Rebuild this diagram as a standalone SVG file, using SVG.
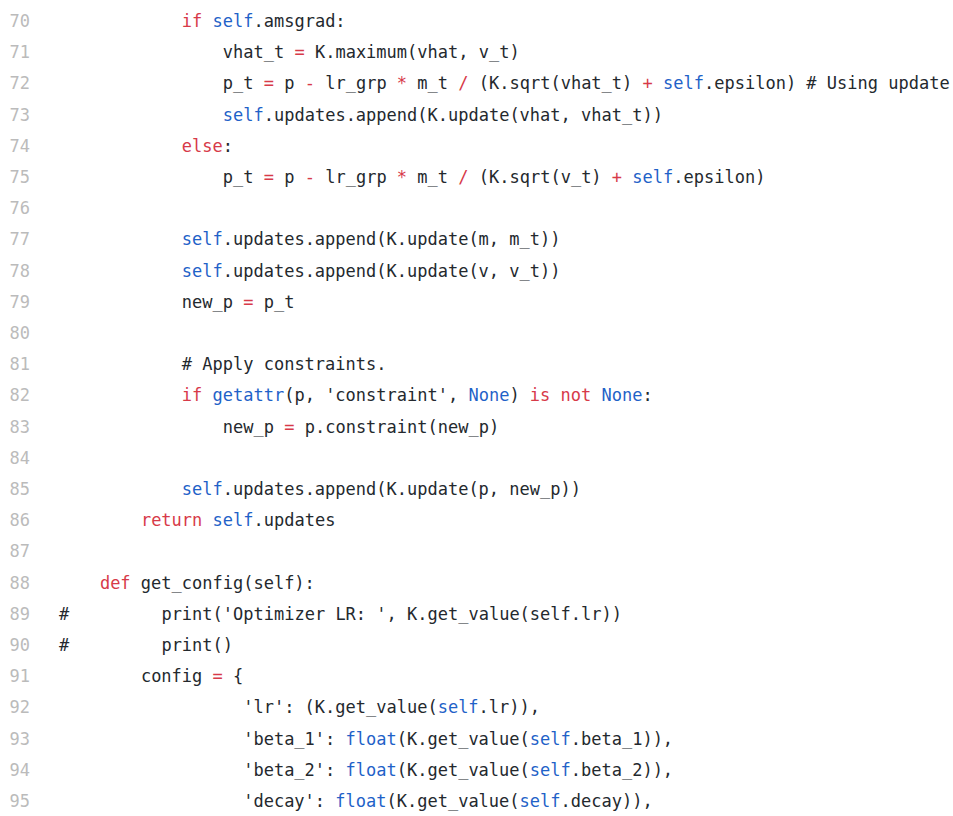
<svg xmlns="http://www.w3.org/2000/svg" width="953" height="816" viewBox="0 0 953 816">
<style>
text{font-family:"DejaVu Sans Mono","Liberation Mono",monospace;font-size:17px;fill:#24292e;white-space:pre}
.n{fill:#bbbbbb}
.k{fill:#d73a49}
.b{fill:#1f62c8}
</style>
<rect width="953" height="816" fill="#ffffff"/>
<g id="line-numbers">
<text class="n" x="9.6" y="27">70</text>
<text class="n" x="9.6" y="58.2">71</text>
<text class="n" x="9.6" y="89.4">72</text>
<text class="n" x="9.6" y="120.6">73</text>
<text class="n" x="9.6" y="151.8">74</text>
<text class="n" x="9.6" y="183">75</text>
<text class="n" x="9.6" y="214.2">76</text>
<text class="n" x="9.6" y="245.4">77</text>
<text class="n" x="9.6" y="276.6">78</text>
<text class="n" x="9.6" y="307.8">79</text>
<text class="n" x="9.6" y="339">80</text>
<text class="n" x="9.6" y="370.2">81</text>
<text class="n" x="9.6" y="401.4">82</text>
<text class="n" x="9.6" y="432.6">83</text>
<text class="n" x="9.6" y="463.8">84</text>
<text class="n" x="9.6" y="495">85</text>
<text class="n" x="9.6" y="526.2">86</text>
<text class="n" x="9.6" y="557.4">87</text>
<text class="n" x="9.6" y="588.6">88</text>
<text class="n" x="9.6" y="619.8">89</text>
<text class="n" x="9.6" y="651">90</text>
<text class="n" x="9.6" y="682.2">91</text>
<text class="n" x="9.6" y="713.4">92</text>
<text class="n" x="9.6" y="744.6">93</text>
<text class="n" x="9.6" y="775.8">94</text>
<text class="n" x="9.6" y="807">95</text>
</g>
<g id="code" xml:space="preserve">
<text x="181.8" y="27"><tspan class="k">if</tspan> <tspan class="b">self</tspan>.amsgrad:</text>
<text x="222.8" y="58.2">vhat_t <tspan class="k">=</tspan> K.maximum(vhat, v_t)</text>
<text x="222.8" y="89.4">p_t <tspan class="k">=</tspan> p <tspan class="k">-</tspan> lr_grp <tspan class="k">*</tspan> m_t <tspan class="k">/</tspan> (K.sqrt(vhat_t) <tspan class="k">+</tspan> <tspan class="b">self</tspan>.epsilon) # Using update</text>
<text x="222.8" y="120.6"><tspan class="b">self</tspan>.updates.append(K.update(vhat, vhat_t))</text>
<text x="181.8" y="151.8"><tspan class="k">else</tspan>:</text>
<text x="222.8" y="183">p_t <tspan class="k">=</tspan> p <tspan class="k">-</tspan> lr_grp <tspan class="k">*</tspan> m_t <tspan class="k">/</tspan> (K.sqrt(v_t) <tspan class="k">+</tspan> <tspan class="b">self</tspan>.epsilon)</text>
<text x="181.8" y="245.4"><tspan class="b">self</tspan>.updates.append(K.update(m, m_t))</text>
<text x="181.8" y="276.6"><tspan class="b">self</tspan>.updates.append(K.update(v, v_t))</text>
<text x="181.8" y="307.8">new_p <tspan class="k">=</tspan> p_t</text>
<text x="181.8" y="370.2"># Apply constraints.</text>
<text x="181.8" y="401.4"><tspan class="k">if</tspan> <tspan class="b">getattr</tspan>(p, 'constraint', <tspan class="b">None</tspan>) <tspan class="k">is not</tspan> <tspan class="b">None</tspan>:</text>
<text x="222.8" y="432.6">new_p <tspan class="k">=</tspan> p.constraint(new_p)</text>
<text x="181.8" y="495"><tspan class="b">self</tspan>.updates.append(K.update(p, new_p))</text>
<text x="140.9" y="526.2"><tspan class="k">return</tspan> <tspan class="b">self</tspan>.updates</text>
<text x="99.9" y="588.6"><tspan class="k">def</tspan> get_config(self):</text>
<text x="59" y="619.8">#</text>
<text x="161.4" y="619.8">print('Optimizer LR: ', K.get_value(self.lr))</text>
<text x="59" y="651">#</text>
<text x="161.4" y="651">print()</text>
<text x="140.9" y="682.2">config <tspan class="k">=</tspan> {</text>
<text x="243.2" y="713.4">'lr': (K.get_value(<tspan class="b">self</tspan>.lr)),</text>
<text x="243.2" y="744.6">'beta_1': <tspan class="b">float</tspan>(K.get_value(<tspan class="b">self</tspan>.beta_1)),</text>
<text x="243.2" y="775.8">'beta_2': <tspan class="b">float</tspan>(K.get_value(<tspan class="b">self</tspan>.beta_2)),</text>
<text x="243.2" y="807">'decay': <tspan class="b">float</tspan>(K.get_value(<tspan class="b">self</tspan>.decay)),</text>
</g>
</svg>
